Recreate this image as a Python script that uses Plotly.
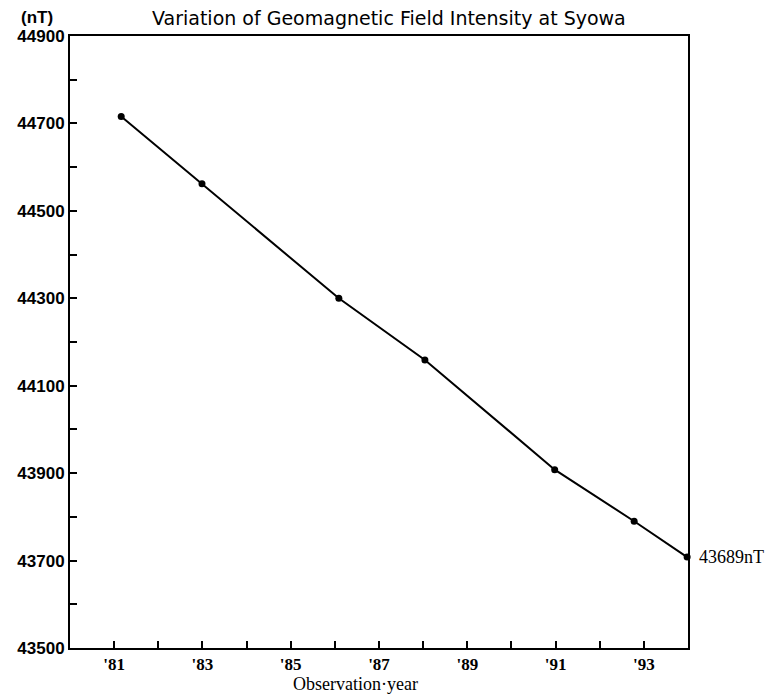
import plotly.graph_objects as go

# Data
years = [81.16, 82.99, 86.09, 88.04, 90.98, 92.78, 93.98]
intensity = [44716, 44562, 44300, 44159, 43908, 43790, 43708]

x_tick_vals = list(range(81, 94))
x_tick_text = ["'81", "", "'83", "", "'85", "", "'87", "", "'89", "", "'91", "", "'93"]
y_tick_vals = list(range(43500, 44901, 100))
y_tick_text = [str(v) if (v - 43500) % 200 == 0 else "" for v in y_tick_vals]

last_label = "43689nT"
title_text = "Variation of Geomagnetic Field Intensity at Syowa"
x_title = "Observation\u00b7year"
y_unit = "(nT)"

fig = go.Figure()
fig.add_trace(go.Scatter(
    x=years, y=intensity, mode="lines+markers",
    line=dict(color="black", width=2),
    marker=dict(color="black", size=7),
    cliponaxis=False, showlegend=False,
))

W, H = 783, 695
L, R, T, B = 70, 95, 36, 47
pw = W - L - R
ph = H - T - B

def px(xp):
    return (xp - L) / pw

def py(yp):
    return 1 - (yp - T) / ph

sans = "Liberation Sans, Arial, sans-serif"
wide = "DejaVu Sans, Liberation Sans, sans-serif"
serif = "Liberation Serif, Times New Roman, serif"

fig.update_layout(
    width=W, height=H,
    margin=dict(l=L, r=R, t=T, b=B, autoexpand=False),
    paper_bgcolor="white", plot_bgcolor="white",
    xaxis=dict(
        range=[80, 94], tickvals=x_tick_vals, ticktext=x_tick_text,
        ticks="inside", ticklen=7, tickwidth=1.5, tickcolor="black",
        showline=True, linecolor="black", linewidth=2, mirror=True,
        showgrid=False, zeroline=False,
        tickfont=dict(family=serif, size=17, color="black", weight="bold"),
    ),
    yaxis=dict(
        range=[43500, 44900], tickvals=y_tick_vals, ticktext=y_tick_text,
        ticks="inside", ticklen=7, tickwidth=1.5, tickcolor="black",
        showline=True, linecolor="black", linewidth=2, mirror=True,
        showgrid=False, zeroline=False,
        tickfont=dict(family=sans, size=17, color="black", weight="bold"),
    ),
    annotations=[
        dict(text=title_text, xref="paper", yref="paper", x=px(389), y=py(18),
             xanchor="center", yanchor="middle", showarrow=False,
             font=dict(family=wide, size=19, color="black")),
        dict(text=y_unit, xref="paper", yref="paper", x=px(37), y=py(17),
             xanchor="center", yanchor="middle", showarrow=False,
             font=dict(family=sans, size=17, color="black", weight="bold")),
        dict(text=x_title, xref="paper", yref="paper", x=px(355), y=py(684),
             xanchor="center", yanchor="middle", showarrow=False,
             font=dict(family=serif, size=18, color="black")),
        dict(text=last_label, xref="x", yref="y", x=years[-1], y=intensity[-1],
             xanchor="left", yanchor="middle", xshift=10, showarrow=False,
             font=dict(family=serif, size=18, color="black")),
    ],
)

fig.write_html("out.html", config={"displayModeBar": False},
               post_script="document.body.style.margin='0px';document.body.style.padding='0px';")
